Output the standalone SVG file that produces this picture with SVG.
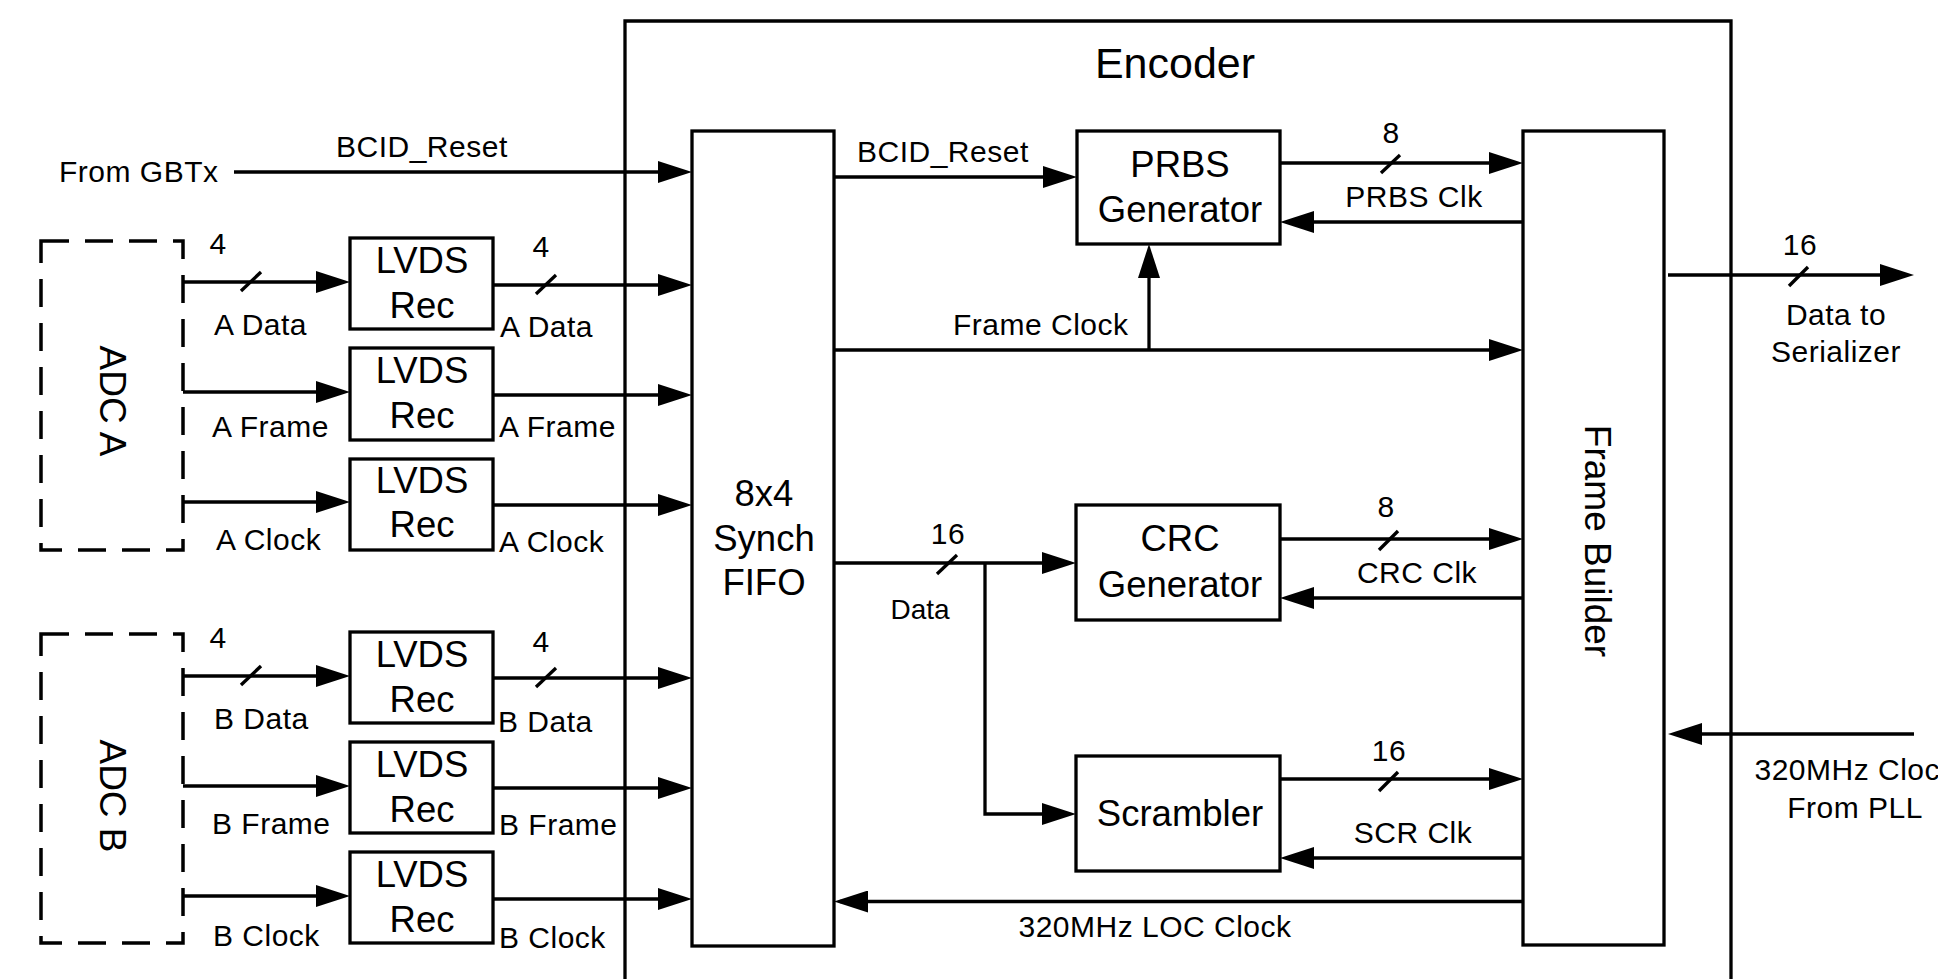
<svg xmlns="http://www.w3.org/2000/svg" width="1938" height="979" viewBox="0 0 1938 979">
<defs>
<marker id="arr" markerUnits="userSpaceOnUse" markerWidth="34" markerHeight="22" refX="28" refY="11" orient="auto" viewBox="0 0 34 22">
<path d="M0,0 L34,11 L0,22 z" fill="#000"/>
</marker>
<style>
.box{fill:#fff;stroke:#000;stroke-width:3.3}
.dash{fill:none;stroke:#000;stroke-width:3.5;stroke-dasharray:28 16}
.ln{fill:none;stroke:#000;stroke-width:3.3}
.ar{fill:none;stroke:#000;stroke-width:3.3;marker-end:url(#arr)}
.sl{stroke:#000;stroke-width:3.3}
text{font-family:"Liberation Sans",Arial,sans-serif;fill:#000}
.lb{font-size:30px;letter-spacing:0.5px}
.nd{font-size:36.5px;text-anchor:middle}
.mid{text-anchor:middle}
</style>
</defs>
<rect width="1938" height="979" fill="#fff"/>

<g id="encoder">
<path class="ln" d="M625,1000 V21 H1731 V1000"/>
<text x="1175" y="78" font-size="43" class="mid">Encoder</text>
</g>

<g id="adc-a">
<rect class="dash" x="41" y="241" width="142" height="309"/>
<text class="mid" font-size="37" transform="translate(100,401) rotate(90)">ADC A</text>
</g>
<g id="adc-b">
<rect class="dash" x="41" y="634" width="142" height="309"/>
<text class="mid" font-size="37" transform="translate(100,796) rotate(90)">ADC B</text>
</g>

<g id="lvds-a-data"><rect class="box" x="350" y="238" width="143" height="91"/><text class="nd" x="422" y="273">LVDS</text><text class="nd" x="422" y="318">Rec</text></g>
<g id="lvds-a-frame"><rect class="box" x="350" y="348" width="143" height="92"/><text class="nd" x="422" y="383">LVDS</text><text class="nd" x="422" y="428">Rec</text></g>
<g id="lvds-a-clock"><rect class="box" x="350" y="459" width="143" height="91"/><text class="nd" x="422" y="493">LVDS</text><text class="nd" x="422" y="537">Rec</text></g>
<g id="lvds-b-data"><rect class="box" x="350" y="632" width="143" height="91"/><text class="nd" x="422" y="667">LVDS</text><text class="nd" x="422" y="712">Rec</text></g>
<g id="lvds-b-frame"><rect class="box" x="350" y="742" width="143" height="91"/><text class="nd" x="422" y="777">LVDS</text><text class="nd" x="422" y="822">Rec</text></g>
<g id="lvds-b-clock"><rect class="box" x="350" y="852" width="143" height="91"/><text class="nd" x="422" y="887">LVDS</text><text class="nd" x="422" y="932">Rec</text></g>

<g id="fifo"><rect class="box" x="692" y="131" width="142" height="815"/>
<text class="nd" x="764" y="506">8x4</text><text class="nd" x="764" y="551">Synch</text><text class="nd" x="764" y="595">FIFO</text></g>

<g id="prbs"><rect class="box" x="1077" y="131" width="203" height="113"/>
<text class="nd" x="1180" y="177">PRBS</text><text class="nd" x="1180" y="222">Generator</text></g>

<g id="crc"><rect class="box" x="1076" y="505" width="204" height="115"/>
<text class="nd" x="1180" y="551">CRC</text><text class="nd" x="1180" y="597">Generator</text></g>

<g id="scrambler"><rect class="box" x="1076" y="756" width="204" height="115"/>
<text class="nd" x="1180" y="826">Scrambler</text></g>

<g id="frame-builder"><rect class="box" x="1523" y="131" width="141" height="814"/>
<text class="mid" font-size="37" transform="translate(1585,541) rotate(90)">Frame Builder</text></g>

<g id="connectors">
<path class="ar" d="M234,172 H686"/>
<path class="ar" d="M183,282 H344"/>
<path class="ar" d="M493,285 H686"/>
<path class="ar" d="M183,392 H344"/>
<path class="ar" d="M493,395 H686"/>
<path class="ar" d="M183,502 H344"/>
<path class="ar" d="M493,505 H686"/>
<path class="ar" d="M183,676 H344"/>
<path class="ar" d="M493,678 H686"/>
<path class="ar" d="M183,786 H344"/>
<path class="ar" d="M493,788 H686"/>
<path class="ar" d="M183,896 H344"/>
<path class="ar" d="M493,899 H686"/>
<path class="ar" d="M834,177 H1071"/>
<path class="ar" d="M834,350 H1517"/>
<path class="ar" d="M1149,350 V250"/>
<path class="ar" d="M1280,163 H1517"/>
<path class="ar" d="M1523,222 H1286"/>
<path class="ar" d="M834,563 H1070"/>
<path class="ar" d="M985,563 V814 H1070"/>
<path class="ar" d="M1280,539 H1517"/>
<path class="ar" d="M1523,598 H1286"/>
<path class="ar" d="M1280,779 H1517"/>
<path class="ar" d="M1523,858 H1286"/>
<path class="ar" d="M1523,901.5 H840"/>
<path class="ar" d="M1668,275 H1908"/>
<path class="ar" d="M1914,734 H1674"/>
<line class="sl" x1="241" y1="291" x2="261" y2="272"/>
<line class="sl" x1="536" y1="294" x2="556" y2="275"/>
<line class="sl" x1="241" y1="685" x2="261" y2="666"/>
<line class="sl" x1="536" y1="687" x2="556" y2="668"/>
<line class="sl" x1="1381" y1="173" x2="1400" y2="155"/>
<line class="sl" x1="937" y1="574" x2="957" y2="555"/>
<line class="sl" x1="1379" y1="550" x2="1398" y2="531"/>
<line class="sl" x1="1379" y1="791" x2="1398" y2="772"/>
<line class="sl" x1="1789" y1="286" x2="1808" y2="267"/>
</g>

<g id="labels">
<text class="lb" x="59" y="182">From GBTx</text>
<text class="lb" x="336" y="157">BCID_Reset</text>
<text class="lb mid" x="218" y="254">4</text>
<text class="lb mid" x="541" y="257">4</text>
<text class="lb" x="214" y="335">A Data</text>
<text class="lb" x="500" y="337">A Data</text>
<text class="lb" x="212" y="437">A Frame</text>
<text class="lb" x="499" y="437">A Frame</text>
<text class="lb" x="216" y="550">A Clock</text>
<text class="lb" x="499" y="552">A Clock</text>
<text class="lb mid" x="218" y="648">4</text>
<text class="lb mid" x="541" y="652">4</text>
<text class="lb" x="214" y="729">B Data</text>
<text class="lb" x="498" y="732">B Data</text>
<text class="lb" x="212" y="834">B Frame</text>
<text class="lb" x="499" y="835">B Frame</text>
<text class="lb" x="213" y="946">B Clock</text>
<text class="lb" x="499" y="948">B Clock</text>
<text class="lb" x="857" y="162">BCID_Reset</text>
<text class="lb" x="953" y="335">Frame Clock</text>
<text class="lb mid" x="1391" y="143">8</text>
<text class="lb mid" x="1414" y="207">PRBS Clk</text>
<text class="lb mid" x="948" y="544">16</text>
<text class="mid" font-size="28" x="920" y="619">Data</text>
<text class="lb mid" x="1386" y="517">8</text>
<text class="lb mid" x="1417" y="583">CRC Clk</text>
<text class="lb mid" x="1389" y="761">16</text>
<text class="lb mid" x="1413" y="843">SCR Clk</text>
<text class="lb mid" x="1155" y="937">320MHz LOC Clock</text>
<text class="lb mid" x="1800" y="255">16</text>
<text class="lb mid" x="1836" y="325">Data to</text>
<text class="lb mid" x="1836" y="362">Serializer</text>
<text class="lb mid" x="1855" y="780">320MHz Clock</text>
<text class="lb mid" x="1855" y="818">From PLL</text>
</g>
</svg>
